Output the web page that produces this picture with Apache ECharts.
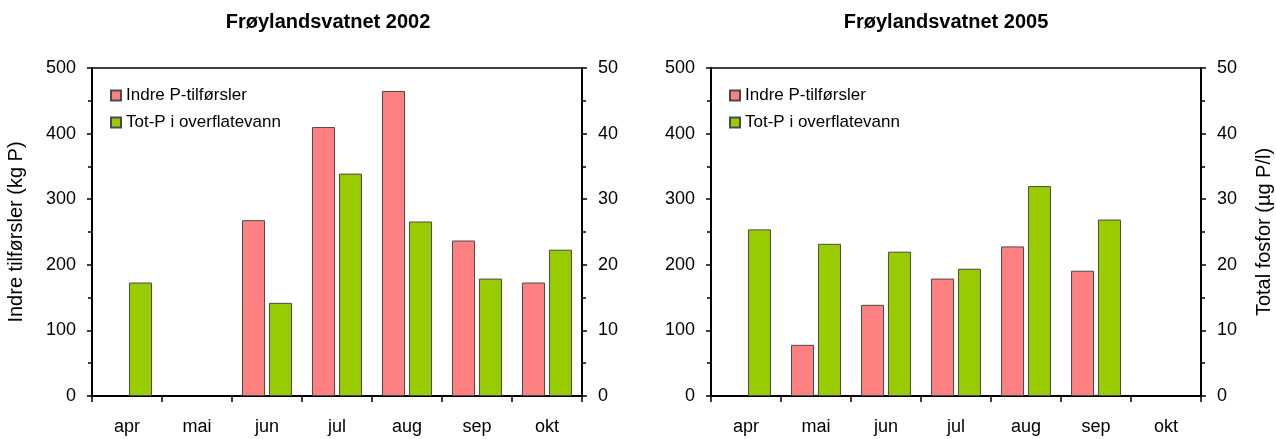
<!DOCTYPE html>
<html>
<head>
<meta charset="utf-8">
<script src="https://cdn.jsdelivr.net/npm/echarts@6/dist/echarts.min.js"></script>
<style>
html, body { margin: 0; padding: 0; background: #fff; }
#chart { width: 1276px; height: 439px; }
</style>
</head>
<body>
<div id="chart"></div>
<script>
// Monthly internal phosphorus loading and surface-water total phosphorus
const months = ['apr', 'mai', 'jun', 'jul', 'aug', 'sep', 'okt'];
const indreP2002 = [null, null, 268, 410, 465, 237, 173];
const totP2002 = [17.3, null, 14.2, 33.9, 26.6, 17.9, 22.3];
const indreP2005 = [null, 78, 139, 179, 228, 191, null];
const totP2005 = [25.4, 23.2, 22.0, 19.4, 32.0, 26.9, null];

const panelTitles = ['Frøylandsvatnet 2002', 'Frøylandsvatnet 2005'];
const seriesNames = ['Indre P-tilførsler', 'Tot-P i overflatevann'];
const leftAxisName = 'Indre tilførsler (kg P)';
const rightAxisName = 'Total fosfor (µg P/l)';
const leftTicks = { min: 0, max: 500, interval: 100 };
const rightTicks = { min: 0, max: 50, interval: 10 };

const FONT = "'Liberation Sans', Arial, sans-serif";
const RED = '#FF8080';
const GREEN = '#99CC00';
const BORDER = '#4a4a4a';

const panels = [
  { left: 92, titleX: 323, red: indreP2002, green: totP2002 },
  { left: 711, titleX: 941, red: indreP2005, green: totP2005 }
];

function valueAxis(gridIndex, position, ticks, name, nameGap) {
  return {
    type: 'value',
    gridIndex: gridIndex,
    position: position,
    min: ticks.min,
    max: ticks.max,
    interval: ticks.interval,
    name: name,
    nameLocation: 'middle',
    nameGap: nameGap,
    nameTextStyle: { fontSize: 20, color: '#000', fontFamily: FONT },
    axisLine: { show: true, onZero: false, lineStyle: { color: '#000', width: 2 } },
    axisTick: { show: true, inside: false, length: 5, lineStyle: { color: '#000', width: 1.5 } },
    minorTick: { show: true, splitNumber: 2, length: 4, lineStyle: { color: '#000', width: 1.5 } },
    splitLine: { show: false },
    axisLabel: { fontSize: 18, color: '#000', fontFamily: FONT, margin: 16 }
  };
}

const option = {
  animation: false,
  backgroundColor: '#fff',
  textStyle: { fontFamily: FONT },
  title: panels.map((p, i) => ({
    text: panelTitles[i],
    left: p.titleX,
    top: 7,
    textAlign: 'center',
    textStyle: { fontSize: 20, fontWeight: 'bold', color: '#000', fontFamily: FONT }
  })),
  legend: panels.map(p => ({
    data: seriesNames,
    orient: 'vertical',
    left: p.left + 18,
    top: 87,
    padding: 0,
    itemWidth: 10,
    itemHeight: 10,
    itemGap: 10,
    icon: 'rect',
    selectedMode: false,
    textStyle: { fontSize: 17, color: '#000', fontFamily: FONT }
  })),
  grid: panels.map(p => ({
    left: p.left,
    top: 68,
    width: 490,
    height: 328,
    show: true,
    borderColor: '#000',
    borderWidth: 1.5,
    backgroundColor: 'transparent'
  })),
  xAxis: panels.map((p, i) => ({
    type: 'category',
    gridIndex: i,
    data: months,
    axisLine: { show: true, lineStyle: { color: '#000', width: 2 } },
    axisTick: { show: true, alignWithLabel: false, length: 6, lineStyle: { color: '#000', width: 1.5 } },
    axisLabel: { fontSize: 18, color: '#000', fontFamily: FONT, margin: 22 },
    splitLine: { show: false }
  })),
  yAxis: [
    valueAxis(0, 'left', leftTicks, leftAxisName, 66),
    valueAxis(0, 'right', rightTicks, '', 0),
    valueAxis(1, 'left', leftTicks, '', 0),
    valueAxis(1, 'right', rightTicks, rightAxisName, 53)
  ],
  series: []
};

panels.forEach((p, i) => {
  option.series.push({
    name: seriesNames[0],
    type: 'bar',
    xAxisIndex: i,
    yAxisIndex: i * 2,
    data: p.red,
    barWidth: 23,
    barGap: '17%',
    itemStyle: { color: RED, borderColor: BORDER, borderWidth: 1 }
  });
  option.series.push({
    name: seriesNames[1],
    type: 'bar',
    xAxisIndex: i,
    yAxisIndex: i * 2 + 1,
    data: p.green,
    barWidth: 23,
    barGap: '17%',
    itemStyle: { color: GREEN, borderColor: BORDER, borderWidth: 1 }
  });
});

const chart = echarts.init(document.getElementById('chart'), null, { renderer: 'canvas' });
chart.setOption(option);
</script>
</body>
</html>
